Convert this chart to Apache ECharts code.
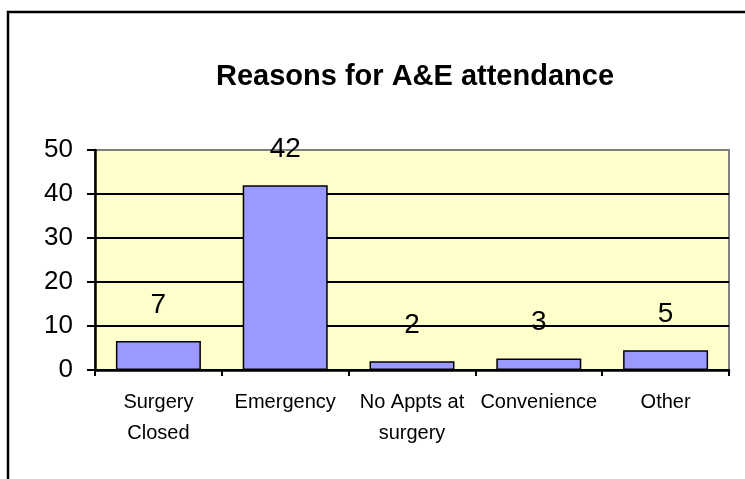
<!DOCTYPE html>
<html>
<head>
<meta charset="utf-8">
<script src="https://cdn.jsdelivr.net/npm/echarts@6/dist/echarts.min.js"></script>
<style>
  html, body { margin: 0; padding: 0; background: #fff; }
  #chart { width: 745px; height: 479px; }
</style>
</head>
<body>
<div id="chart"></div>
<script>
// reasons and counts
const categories = ['Surgery\nClosed', 'Emergency', 'No Appts at\nsurgery', 'Convenience', 'Other']
const attendance = [6.6, 42, 2, 2.6, 4.5]
const yTicks = [0, 10, 20, 30, 40, 50]

const chart = echarts.init(document.getElementById('chart'))

chart.setOption({
  backgroundColor: '#ffffff',
  textStyle: { fontFamily: 'Liberation Sans, Arial, sans-serif' },
  title: {
    text: 'Reasons for A&E attendance',
    left: 410,
    top: 57,
    textAlign: 'center',
    textStyle: {
      fontSize: 29,
      fontWeight: 'bold',
      color: '#000'
    }
  },
  graphic: [
    {
      type: 'rect',
      shape: { x: 8, y: 12, width: 900, height: 700 },
      style: { fill: 'none', stroke: '#000', lineWidth: 2.5 },
      silent: true
    }
  ],
  grid: {
    left: 95,
    right: 16,
    top: 150,
    bottom: 109,
    show: true,
    backgroundColor: '#FFFFCC',
    borderColor: '#808080',
    borderWidth: 2
  },
  xAxis: {
    type: 'category',
    data: categories,
    axisLine: { lineStyle: { color: '#000', width: 2.5 } },
    axisTick: { show: true, length: 6, lineStyle: { color: '#000', width: 2 } },
    axisLabel: {
      color: '#000',
      fontSize: 20,
      lineHeight: 31,
      margin: 17,
      interval: 0
    }
  },
  yAxis: {
    type: 'value',
    min: yTicks[0],
    max: yTicks[yTicks.length - 1],
    interval: 10,
    axisLine: { show: true, lineStyle: { color: '#000', width: 2.5 } },
    axisTick: { show: true, length: 8, lineStyle: { color: '#000', width: 2 } },
    axisLabel: { color: '#000', fontSize: 26, margin: 22 },
    splitLine: {
      show: true,
      lineStyle: { color: ['#000', '#000', '#000', '#000', '#000', '#808080'], width: 2 }
    }
  },
  series: [
    {
      type: 'bar',
      data: attendance,
      barWidth: 85,
      itemStyle: { color: '#9999FF', borderColor: '#000', borderWidth: 1.5 },
      label: {
        show: true,
        position: 'top',
        distance: 22,
        fontSize: 28,
        color: '#000',
        formatter: p => Math.round(p.value)
      },
      animation: false
    }
  ],
  animation: false
})
</script>
</body>
</html>
